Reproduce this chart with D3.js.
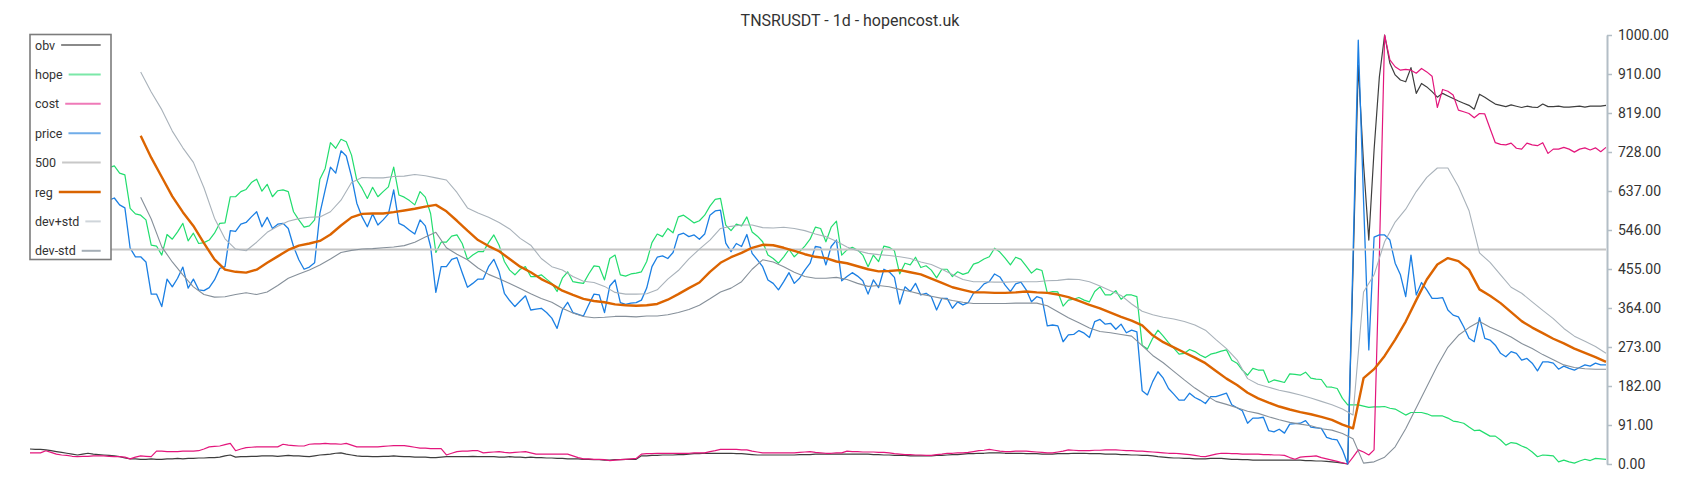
<!DOCTYPE html>
<html>
<head>
<meta charset="utf-8">
<script src="https://cdn.jsdelivr.net/npm/d3@7.9.0/dist/d3.min.js"></script>
<style>
  body { margin: 0; background: #fff; font-family: Roboto, "Noto Sans", sans-serif; }
</style>
</head>
<body>
<svg id="chart" width="1700" height="500"></svg>
<script>
// daily candles, day 0 .. 299
const dayCount = 300;

// price and hope start at day 15 (earlier part sits behind the legend)
const price = [
  615,620,604,597,503,483,483,471,396,396, 367,431,413,433,459,410,431,406,404,411,
  429,456,460,544,542,559,563,576,588,553, 575,549,559,561,549,507,476,454,459,469,
  584,639,692,678,730,718,670,608,576,553, 583,557,569,583,639,561,555,545,536,569,
  555,507,400,460,460,477,481,446,412,421, 431,431,460,477,448,398,381,367,380,392,
  359,361,363,353,340,316,359,377,353,349, 345,371,396,394,353,415,429,376,372,375,
  376,382,410,460,482,485,479,493,534,538, 530,534,524,536,580,590,592,515,495,514,
  507,535,491,476,460,429,421,406,425,446, 421,433,452,468,507,505,464,507,522,427,
  437,446,438,427,396,429,411,454,448,435, 373,413,402,421,394,398,390,359,386,386,
  363,378,371,376,398,406,420,425,443,436, 417,402,420,424,406,378,390,386,322,324,
  322,285,301,302,311,305,295,332,337,326, 328,314,326,306,312,308,171,161,192,215,
  200,176,163,149,149,165,155,149,141,157, 157,161,165,138,131,124,95,107,107,109,
  78,75,81,72,93,94,95,101,86,84, 83,62,58,56,33,0,480,988,615,266,
  529,534,534,522,468,441,390,487,394,423, 406,386,386,388,359,347,343,320,293,285,
  341,293,289,277,258,250,262,258,242,246, 235,217,238,238,235,221,228,223,219,225,
  231,228,235,231,231
];
const hope = [
  691,695,678,674,596,583,580,569,510,508, 487,535,524,541,561,520,538,514,516,522,
  538,561,562,623,623,635,640,656,664,636, 652,623,637,639,635,588,569,552,555,569,
  664,689,749,736,757,751,720,662,643,619, 645,623,635,646,692,627,622,614,604,635,
  622,584,493,517,517,531,534,514,477,487, 495,495,516,534,510,472,452,441,454,460,
  437,437,441,431,421,402,433,448,425,423, 421,443,462,460,429,479,487,441,438,443,
  445,448,472,516,536,530,549,539,576,580, 571,562,567,580,601,617,619,557,544,559,
  555,576,541,531,518,487,479,468,483,500, 483,495,508,524,552,549,518,552,566,487,
  499,505,499,487,460,487,472,508,505,497, 443,468,464,482,458,462,452,434,454,454,
  437,448,442,446,466,470,478,483,503,494, 480,464,482,477,461,445,455,451,399,402,
  401,368,382,384,388,382,378,402,413,394, 394,404,384,394,394,390,277,268,293,312,
  298,283,270,256,258,267,262,254,248,256, 259,263,266,242,235,219,207,223,219,219,
  190,196,193,190,210,209,207,214,200,198, 197,180,179,176,153,138,138,138,135,132,
  133,133,134,130,128,121,114,120,120,120, 117,112,112,112,107,100,98,95,86,78,
  79,72,65,65,56,44,50,48,42,37, 28,17,21,20,19,5,9,5,2,7,
  11,8,13,12,11
];
const obv = [
  35,34,34,33,31,29,27,25,23,21, 23,25,23,22,21,20,19,17,14,12,
  12,11,11,12,11,11,12,12,13,12, 13,13,14,14,15,15,16,19,21,16,
  17,17,18,18,19,19,19,18,19,20, 19,19,18,17,19,21,22,23,25,26,
  23,21,19,18,18,17,17,18,18,19, 18,17,17,16,16,16,15,15,16,17,
  17,17,17,17,18,17,17,17,17,16, 16,17,16,16,15,16,15,15,14,14,
  13,13,12,12,12,11,11,10,10,9, 9,10,10,11,11,11,19,19,20,20,
  21,21,21,22,22,23,24,24,25,25, 25,25,25,25,24,24,23,22,21,21,
  21,21,21,21,21,21,22,22,22,23, 23,23,23,23,23,23,23,23,23,23,
  22,22,21,21,20,20,20,19,19,19, 19,19,20,20,21,22,22,23,24,24,
  25,25,26,26,26,25,25,25,25,24, 24,24,23,23,23,24,24,24,25,25,
  25,24,24,24,23,23,23,22,22,21, 21,20,20,19,17,16,15,14,14,13,
  13,12,12,12,13,13,13,12,11,11, 10,10,9,9,9,9,9,9,9,9,
  9,9,8,8,7,7,6,5,4,2, 0,450,930,700,522,732,902,1000,934,907,
  895,891,924,864,887,879,868,855,864,858, 852,846,841,836,827,862,855,847,839,836,
  833,837,834,831,834,832,831,839,833,833, 834,832,832,833,834,832,834,834,834,836
];
const cost = [
  26,26,26,31,27,23,21,20,18,17, 18,18,19,19,19,18,17,17,16,12,
  16,19,18,17,30,30,29,29,29,30, 30,30,31,35,40,41,42,45,48,31,
  35,38,39,40,40,40,40,40,46,44, 43,42,42,46,47,47,48,47,47,46,
  48,44,40,40,40,40,40,41,42,43, 43,43,41,39,37,37,36,36,36,21,
  25,29,30,30,31,31,26,27,28,29, 27,26,27,28,29,26,23,23,23,23,
  23,23,23,19,15,12,12,11,11,10, 8,9,10,11,12,13,23,24,24,25,
  25,25,25,25,25,25,26,26,26,29, 31,34,34,34,34,33,33,30,28,26,
  26,26,26,26,26,26,27,28,29,27, 26,25,25,26,26,30,29,29,28,28,
  28,27,27,26,24,23,22,22,21,21, 20,20,22,23,25,25,26,26,27,29,
  31,32,34,32,30,29,29,30,30,30, 29,28,27,26,26,28,30,33,32,31,
  31,31,32,32,33,33,33,32,31,31, 30,30,29,28,27,26,25,25,24,23,
  22,20,18,17,20,23,25,25,24,24, 23,23,23,23,22,22,21,21,20,15,
  11,16,17,18,19,15,12,9,6,3, 0,16,33,28,21,33,485,1000,942,926,
  918,920,918,911,922,914,904,831,873,869, 860,825,821,817,807,817,816,782,749,745,
  744,748,736,734,748,744,742,749,724,734, 734,738,734,727,734,737,732,737,728,738
];

// smooth bands: every second day from day 21
const reg = [
  765,714,669,624,587,555,515,477,453,448, 446,453,469,484,499,509,514,520,535,556,
  575,583,584,584,587,591,595,600,604,589, 567,544,522,508,496,478,460,447,431,419,
  404,394,385,380,377,372,370,369,370,373, 383,396,410,423,448,469,482,492,504,511,
  510,504,497,489,483,480,472,468,461,454, 449,450,452,447,442,432,422,412,406,400,
  400,399,399,400,402,400,399,395,389,380, 371,363,353,343,334,323,300,284,272,260,
  248,235,217,199,184,166,153,143,134,127, 121,116,110,103,92,83,200,221,252,290,
  332,382,430,465,480,473,453,407,392,375, 354,333,318,305,292,281,269,259,249,238
];
const devUp = [
  914,867,826,776,737,703,644,573,525,501, 497,517,540,554,566,572,575,576,588,615,
  656,668,667,667,670,671,675,672,667,662, 633,597,585,575,563,548,526,510,479,460,
  452,437,426,423,414,400,396,396,397,406, 431,451,478,501,522,549,554,557,557,551,
  550,552,549,544,536,530,519,506,497,491, 488,486,483,479,471,465,454,442,430,425,
  425,424,424,425,425,425,427,428,431,430, 425,415,404,393,373,356,348,342,338,332,
  324,312,290,269,243,199,186,179,172,167, 161,154,146,138,128,114,401,441,518,564,
  594,635,668,690,690,647,591,492,470,441, 412,398,378,358,339,316,298,286,274,258
];
const devDn = [
  622,571,506,471,441,413,395,389,390,395, 399,395,401,416,433,443,452,464,478,493,
  498,501,502,504,506,509,517,529,540,504, 489,476,457,442,432,421,409,397,386,377,
  363,352,344,341,342,344,344,343,345,345, 348,353,360,370,385,401,410,425,454,476,
  471,460,447,437,433,433,435,430,421,414, 416,413,407,402,396,391,386,381,377,374,
  374,374,374,375,375,375,369,355,341,329, 317,309,306,302,298,276,253,236,216,196,
  177,161,146,139,131,123,118,110,103,97, 93,89,82,79,71,59,2,5,16,40,
  82,131,180,229,272,300,318,332,319,308, 296,281,269,255,243,231,225,222,221,221
];
const level500 = 500;

const tickLabels = ['0.00','91.00','182.00','273.00','364.00','455.00','546.00',
                    '637.00','728.00','819.00','910.00','1000.00'];
const legendNames = ['obv','hope','cost','price','500','reg','dev+std','dev-std'];
const legendColors = ['#8a8a8a','#7be8a8','#ef7ab8','#70ade9','#c8c8c8','#d96400','#cfd5da','#a5aeb6'];

const svg = d3.select('#chart');
const x = d3.scaleLinear().domain([0, dayCount - 1]).range([30, 1606]);
const y = d3.scaleLinear().domain([0, 1000]).range([464, 35]);

function toPoints(values, startDay, step = 1) {
  return values.map((v, i) => [startDay + i * step, v]);
}
const line = d3.line().x(d => x(d[0])).y(d => y(d[1]));

const series = [
  { data: toPoints(obv, 0), color: '#3e3e3e', width: 1.2 },
  { data: toPoints(hope, 15), color: '#22dd6e', width: 1.2 },
  { data: toPoints(cost, 0), color: '#e3167c', width: 1.2 },
  { data: toPoints(price, 15), color: '#1b7fe3', width: 1.3 },
  { level: level500, color: '#c4c4c4', width: 2 },
  { data: toPoints(reg, 21, 2), color: '#dc6400', width: 2.4 },
  { data: toPoints(devUp, 21, 2), color: '#a9b2ba', width: 1.1 },
  { data: toPoints(devDn, 21, 2), color: '#86909a', width: 1.1 },
];

series.forEach(s => {
  if (s.level !== undefined) {
    svg.append('line')
      .attr('x1', x(0)).attr('x2', x(dayCount - 1))
      .attr('y1', y(s.level)).attr('y2', y(s.level))
      .attr('stroke', s.color).attr('stroke-width', s.width);
  } else {
    svg.append('path')
      .attr('d', line(s.data))
      .attr('fill', 'none')
      .attr('stroke', s.color)
      .attr('stroke-width', s.width)
      .attr('stroke-linejoin', 'round');
  }
});

// right axis
const axis = d3.axisRight(y)
  .tickValues(d3.range(12).map(i => i * 1000 / 11))
  .tickFormat((d, i) => tickLabels[i])
  .tickSize(5)
  .tickSizeOuter(0)
  .tickPadding(6);
const ax = svg.append('g').attr('transform', 'translate(1607,0)').call(axis);
ax.select('.domain').attr('stroke', '#b3bec6').attr('stroke-width', 2);
ax.selectAll('.tick line').attr('stroke', '#b3bec6').attr('stroke-width', 1.5);
ax.selectAll('.tick text')
  .attr('fill', '#333')
  .style('font-size', '14px')
  .style('font-family', 'Roboto, sans-serif');

// title
svg.append('text')
  .attr('x', 850).attr('y', 26)
  .attr('text-anchor', 'middle')
  .attr('fill', '#333')
  .style('font-size', '16px')
  .text('TNSRUSDT - 1d - hopencost.uk');

// legend
const legend = svg.append('g');
legend.append('rect')
  .attr('x', 30).attr('y', 34.5).attr('width', 81).attr('height', 225)
  .attr('fill', '#fff').attr('stroke', '#7c7c7c').attr('stroke-width', 1.6);
legendNames.forEach((name, i) => {
  const yy = 45 + i * 29.4;
  const t = legend.append('text')
    .attr('x', 35).attr('y', yy)
    .attr('dominant-baseline', 'central')
    .attr('fill', '#333')
    .style('font-size', '12.5px')
    .text(name);
  const w = t.node().getComputedTextLength();
  legend.append('line')
    .attr('x1', 35 + w + 6).attr('x2', 100.7)
    .attr('y1', yy).attr('y2', yy)
    .attr('stroke', legendColors[i])
    .attr('stroke-width', name === 'reg' ? 2.5 : 2);
});
</script>
</body>
</html>
